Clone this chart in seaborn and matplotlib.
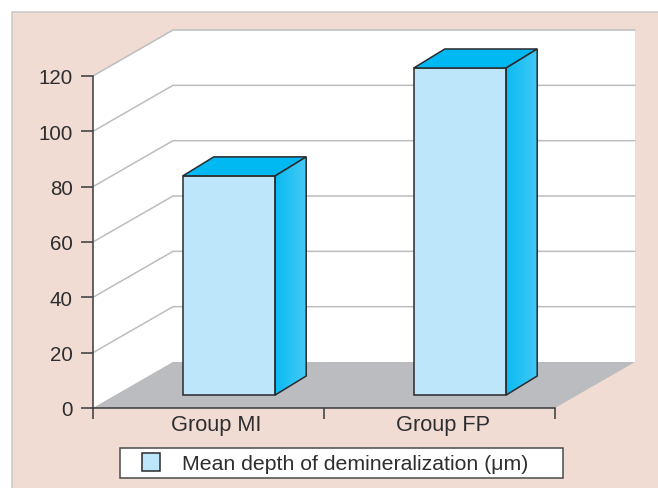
import matplotlib
matplotlib.use('Agg')
import matplotlib.pyplot as plt
import numpy as np
import pandas as pd
import seaborn as sns
from matplotlib.colors import LinearSegmentedColormap
from matplotlib.patches import Polygon, Rectangle
from matplotlib.transforms import ScaledTranslation

groups = ['Group MI', 'Group FP']
mean_depth = [79.2, 118.2]
y_ticks = [0, 20, 40, 60, 80, 100, 120]
legend_label = 'Mean depth of demineralization (\u03bcm)'

W, H = 658, 489
# fake 3d offsets, in data units (1 category = 231 px, 1 value unit = 2.767 px)
WALL_DX, WALL_DY = 80 / 231, 46 / 2.767
BAR_SHIFT_X, BAR_SHIFT_Y = 20.5 / 231, 13 / 2.767
BAR_DX, BAR_DY = 31 / 231, 19 / 2.767

DARK = '#3a3a3c'
GRID = '#bcbdc0'
TEXT = '#2e2e30'
EDGE = '#2b2b2d'
side_cmap = LinearSegmentedColormap.from_list('side', ['#08bbf2', '#46c9f6'])


def draw_walls(ax):
    x0, x1 = -0.5, 1.5
    top = y_ticks[-1]
    ax.add_patch(Polygon([(x0, 0), (x0, top), (x0 + WALL_DX, top + WALL_DY), (x1 + WALL_DX, top + WALL_DY),
                          (x1 + WALL_DX, WALL_DY), (x0 + WALL_DX, WALL_DY)],
                         fc='white', ec='none', zorder=0, clip_on=False))
    ax.add_patch(Polygon([(x0, 0), (x1, 0), (x1 + WALL_DX, WALL_DY), (x0 + WALL_DX, WALL_DY)],
                         fc='#bbbcc0', ec='none', zorder=0.5, clip_on=False))
    for v in y_ticks[1:]:
        ax.plot([x0, x0 + WALL_DX, x1 + WALL_DX], [v, v + WALL_DY, v + WALL_DY], color=GRID, lw=1.1,
                zorder=0.7, clip_on=False, solid_joinstyle='miter')


def draw_bar_sides(ax):
    for bar in list(ax.patches):
        bar.set_x(bar.get_x() + BAR_SHIFT_X)
        bar.set_y(BAR_SHIFT_Y)
        x, w, h = bar.get_x(), bar.get_width(), bar.get_height()
        y0, y1 = BAR_SHIFT_Y, BAR_SHIFT_Y + h
        xr = x + w
        ax.add_patch(Polygon([(x, y1), (xr, y1), (xr + BAR_DX, y1 + BAR_DY), (x + BAR_DX, y1 + BAR_DY)],
                             fc='#00b9f2', ec=EDGE, lw=1.1, zorder=3, clip_on=False))
        side = Polygon([(xr, y0), (xr, y1), (xr + BAR_DX, y1 + BAR_DY), (xr + BAR_DX, y0 + BAR_DY)],
                       fc='none', ec=EDGE, lw=1.1, zorder=3.2, clip_on=False)
        ax.add_patch(side)
        im = ax.imshow(np.linspace(0, 1, 64).reshape(1, -1), cmap=side_cmap, aspect='auto', zorder=3.1,
                       extent=(xr, xr + BAR_DX, y0, y1 + BAR_DY))
        im.set_clip_box(ax.figure.bbox)
        im.set_clip_path(side)


def main():
    sns.set_theme(style='white')
    plt.rcParams['font.family'] = ['Liberation Sans', 'DejaVu Sans']

    fig = plt.figure(figsize=(W / 100, H / 100), dpi=100, facecolor='white')
    fig.add_artist(Rectangle((12 / W, -0.05), 1, 1.05 - 13 / H, transform=fig.transFigure,
                             fc='#f0dcd3', ec='#c9c9c9', lw=1.1, zorder=-5))

    ax = fig.add_axes([93 / W, 1 - 409 / H, 462 / W, 332 / H])
    ax.patch.set_visible(False)
    df = pd.DataFrame({'group': groups, 'depth': mean_depth})
    sns.barplot(data=df, x='group', y='depth', width=0.4, color='#bde6fa', saturation=1,
                edgecolor=EDGE, linewidth=1.1, zorder=2, label=legend_label, clip_on=False, ax=ax)
    draw_bar_sides(ax)
    draw_walls(ax)

    ax.set_xlim(-0.5, 1.5)
    ax.set_ylim(0, y_ticks[-1])
    ax.set_xlabel('')
    ax.set_ylabel('')
    ax.set_yticks(y_ticks)
    ax.set_xticks([-0.5, 0.5, 1.5], minor=True)
    ax.tick_params(axis='y', left=True, length=8.6, width=1.1, color=DARK, pad=6, labelsize=14.8, labelcolor=TEXT)
    ax.tick_params(axis='x', which='major', bottom=False, length=0, pad=4, labelsize=15.7, labelcolor=TEXT)
    ax.tick_params(axis='x', which='minor', bottom=True, length=8.2, width=1.1, color=DARK)
    # the group labels sit a little right of their category centres
    for label, shift_px in zip(ax.get_xticklabels(), [8, 3.5]):
        label.set_transform(label.get_transform() + ScaledTranslation(shift_px / 100, 0, fig.dpi_scale_trans))
    for name in ['top', 'right']:
        ax.spines[name].set_visible(False)
    for name in ['left', 'bottom']:
        ax.spines[name].set_color(DARK)
        ax.spines[name].set_linewidth(1.1)
        ax.spines[name].set_zorder(4)

    fig.add_artist(Rectangle((120 / W, 1 - 479 / H), 443 / W, 30 / H, transform=fig.transFigure,
                             fc='white', ec='#4a4a4c', lw=1.1, zorder=-1))
    handles, labels = ax.get_legend_handles_labels()
    ax.legend(handles[:1], labels[:1], loc='center left', bbox_to_anchor=(142 / W, 1 - 464 / H),
              bbox_transform=fig.transFigure, frameon=False, borderpad=0, borderaxespad=0,
              handlelength=0.85, handleheight=0.9, handletextpad=1.05, prop={'size': 15.3}, labelcolor=TEXT)

    fig.savefig('out.png', dpi=100, facecolor='white')


if __name__ == '__main__':
    main()
